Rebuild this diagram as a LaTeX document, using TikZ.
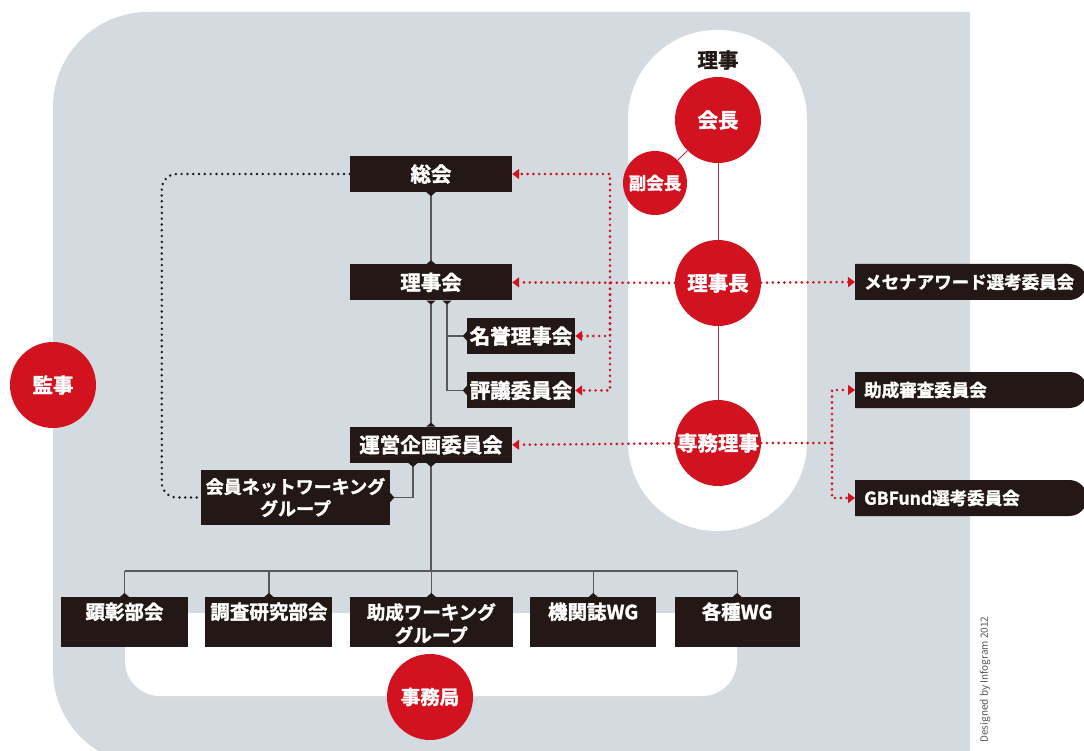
\documentclass[tikz,border=0pt]{standalone}
\usepackage{fontspec}
\setmainfont{Noto Sans CJK JP}[BoldFont={Noto Sans CJK JP Bold}, BoldFeatures={FakeBold=1.6}]
\usepackage{xcolor}
\usepackage{tikz}
\usetikzlibrary{arrows.meta, positioning, shapes.misc}
\definecolor{bggray}{HTML}{D3DBE0}
\definecolor{boxblk}{HTML}{231815}
\definecolor{redc}{HTML}{D3121F}
\definecolor{darkred}{HTML}{A83240}
\definecolor{linegray}{HTML}{595757}
\definecolor{creditgray}{HTML}{555555}
\tikzstyle{orgbox} = [rectangle, fill=boxblk, text=white, minimum width=162pt, minimum height=36pt, inner sep=0pt, font=\bfseries\fontsize{20.5}{24}\selectfont]
\tikzstyle{unitbox} = [orgbox, minimum width=127pt, minimum height=50pt, inner ysep=3pt, text height=19pt, text depth=25pt, align=center, font=\bfseries\fontsize{19.5}{23}\selectfont]
\tikzstyle{sidebox} = [rounded rectangle, rounded rectangle west arc=none, fill=boxblk, text=white, minimum height=36pt, text width=212pt, inner xsep=9pt, inner ysep=0pt, align=left, font=\bfseries\fontsize{17.5}{21}\selectfont]
\tikzstyle{redcirc} = [circle, fill=redc, text=white, minimum size=86pt, inner sep=0pt, font=\bfseries\fontsize{20.5}{24}\selectfont]
\tikzstyle{link} = [draw=linegray, line width=1.2pt]
\tikzstyle{bumps} = [arrows={Triangle[reversed,width=9pt,length=4pt,color=boxblk]-Triangle[reversed,width=9pt,length=4pt,color=boxblk]}]
\tikzstyle{endbump} = [arrows={-Triangle[reversed,width=9pt,length=4pt,color=boxblk]}]
\tikzstyle{startbump} = [arrows={Triangle[reversed,width=9pt,length=4pt,color=boxblk]-}]
\tikzstyle{reddot} = [draw=redc, line width=2.9pt, dash pattern=on 0pt off 5.8pt, line cap=round]
\tikzstyle{redarrow} = [reddot, arrows={-Triangle[width=10pt,length=7pt,color=redc]}]
\tikzstyle{blkdot} = [draw=boxblk, line width=2.7pt, dash pattern=on 0pt off 5.8pt, line cap=round, rounded corners=15pt]
\tikzstyle{redlink} = [draw=darkred, line width=1pt]

\begin{document}
\begin{tikzpicture}[x=1pt, y=-1pt]
    \useasboundingbox (0,0) rectangle (1084,751);

    % Fondo
    \begin{scope}
        \clip (0,0) rectangle (970,751);
        \fill[bggray, rounded corners=95pt] (53,12) rectangle (1200,765);
    \end{scope}
    \fill[white, rounded corners=89pt] (628,30) rectangle (807,531);
    \fill[white, rounded corners=35pt] (125,613) rectangle (737,696);

    % Riji
    \node (rijilabel) [font=\bfseries\fontsize{20.5}{24}\selectfont, text=boxblk] at (718,60) {理事};
    \node (kaicho) [redcirc] at (718,120) {会長};
    \node (fuku) [redcirc, minimum size=64pt, font=\bfseries\fontsize{17.5}{20}\selectfont] at (655,183) {副会長};
    \node (rijicho) [redcirc] at (718,283) {理事長};
    \node (senmu) [redcirc] at (718,443) {専務理事};
    \node (kanji) [redcirc] at (53,385) {監事};
    \node (jimu) [redcirc, font=\bfseries\fontsize{19.5}{23}\selectfont] at (430,697) {事務局};

    % Kaigi
    \node (sokai) [orgbox] at (431,174) {総会};
    \node (rijikai) [orgbox, below=72pt of sokai] {理事会};
    \node (unei) [orgbox, below=126pt of rijikai] {運営企画委員会};
    \node (meiyo) [orgbox, minimum width=108pt] at (521,336) {名誉理事会};
    \node (hyogi) [orgbox, minimum width=108pt, below=18pt of meiyo] {評議委員会};
    \node (kaiin) [orgbox, minimum width=189pt, minimum height=55pt, align=center, font=\bfseries\fontsize{18}{22}\selectfont] at (295.5,497.5) {会員ネットワーキング\\グループ};

    % Bukai
    \node (kensho) [unitbox, anchor=north] at (124.5,597) {顕彰部会};
    \node (chosa) [unitbox, right=17pt of kensho] {調査研究部会};
    \node (joseiwg) [unitbox, minimum width=163pt, text height=42pt, text depth=2pt, font=\bfseries\fontsize{18.5}{23}\selectfont, right=17pt of chosa] {助成ワーキング\\グループ};
    \node (kikanshi) [unitbox, minimum width=126pt, right=17pt of joseiwg] {機関誌WG};
    \node (kakushu) [unitbox, minimum width=125pt, right=18pt of kikanshi] {各種WG};

    % Iinkai
    \node (mecenat) [sidebox, anchor=west] at (855,282) {メセナアワード選考委員会};
    \node (josei) [sidebox, anchor=west] at (855,390) {助成審査委員会};
    \node (gbf) [sidebox, anchor=west] at (855,498) {GBFund選考委員会};

    % Lineas
    \draw [redlink] (kaicho) -- (fuku);
    \draw [redlink] (kaicho) -- (rijicho);
    \draw [redlink] (rijicho) -- (senmu);
    \draw [link, bumps] (sokai) -- (rijikai);
    \draw [link, bumps] (rijikai) -- (unei);
    \draw [link, bumps] ([xshift=16pt]rijikai.south) |- (hyogi.west);
    \draw [link, endbump] ([xshift=16pt]rijikai.south |- meiyo.west) -- (meiyo.west);
    \draw [link, bumps] ([xshift=-18pt]unei.south) |- (kaiin.east);
    \coordinate (bus) at (431,571);
    \draw [link, startbump] (unei.south) -- (bus);
    \draw [link] (kensho.north |- bus) -- (kakushu.north |- bus);
    \foreach \b in {kensho, chosa, joseiwg, kikanshi, kakushu}
        \draw [link, endbump] (\b.north |- bus) -- (\b.north);

    % Flechas
    \coordinate (jct1) at (610,283);
    \coordinate (jct2) at (832,443);
    \draw [redarrow] (rijicho) -- (rijikai.east);
    \draw [redarrow] (jct1) |- (sokai.east);
    \draw [redarrow] (jct1) |- (meiyo.east);
    \draw [redarrow] (jct1) |- (hyogi.east);
    \draw [redarrow] (rijicho) -- (mecenat.west);
    \draw [redarrow] (senmu) -- (unei.east);
    \draw [reddot] (senmu) -- (jct2);
    \draw [redarrow] (jct2) |- (josei.west);
    \draw [redarrow] (jct2) |- (gbf.west);

    % Red de socios
    \draw [blkdot] (sokai.west) -- ++(-188,0) |- (kaiin.west);

    % Credito
    \node (credit) [rotate=90, anchor=west, text=creditgray, font=\fontsize{10}{12}\selectfont] at (985,746) {Designed by Infogram 2012};
\end{tikzpicture}
\end{document}
